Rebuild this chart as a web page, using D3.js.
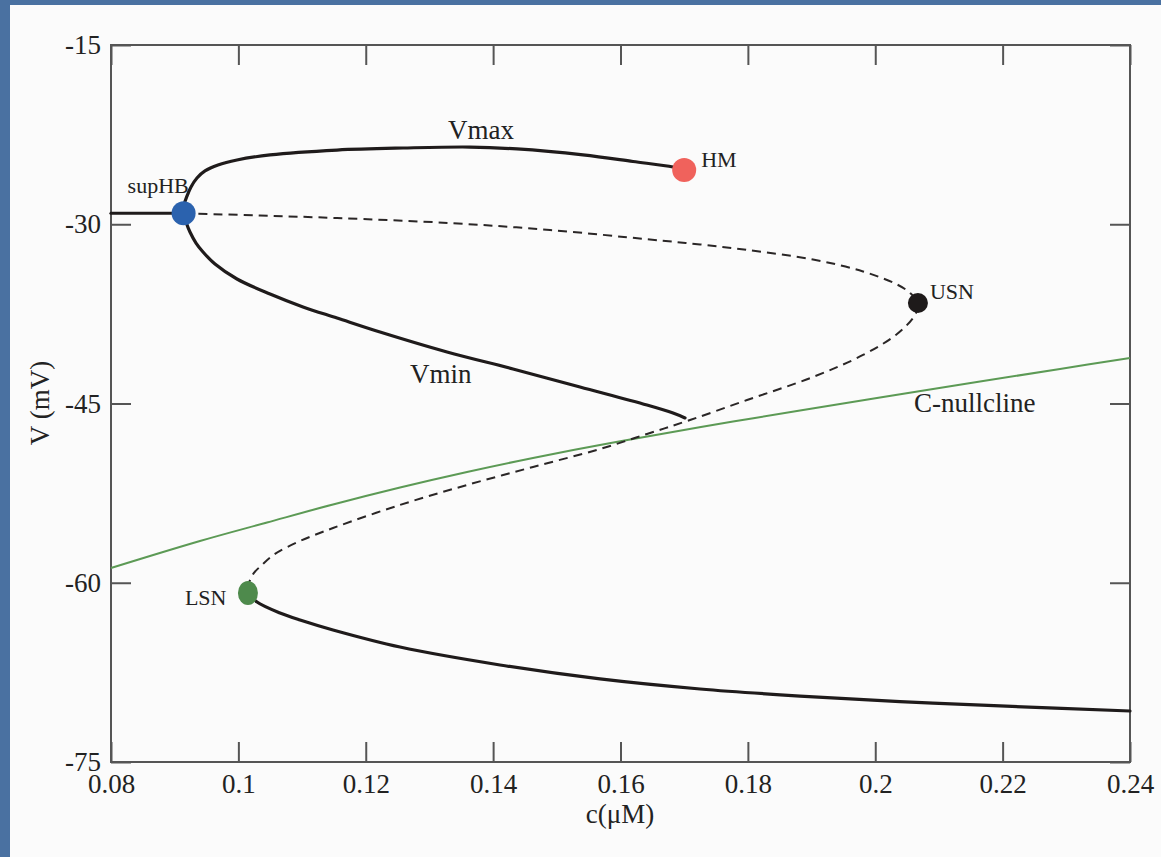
<!DOCTYPE html>
<html>
<head>
<meta charset="utf-8">
<script src="https://cdn.jsdelivr.net/npm/d3@7"></script>
<style>
  body { margin: 0; background: #4a71a1; }
  svg { display: block; }
  text { font-family: "Liberation Serif", "Times New Roman", serif; fill: #222; }
</style>
</head>
<body>
<div id="chart"></div>
<script>
// values: [c (uM), V (mV)]
const restLeft = [[0.08, -29.08], [0.0914, -29.08]];

const vmax = [
  [0.0914, -29.08], [0.09146, -28.39], [0.09193, -27.64], [0.09256, -26.88], [0.0935, -26.13],
  [0.09476, -25.54], [0.0968, -25.04], [0.09978, -24.62], [0.10497, -24.20], [0.11549, -23.79],
  [0.12585, -23.62], [0.13637, -23.54], [0.14375, -23.70], [0.15411, -24.20], [0.16196, -24.75],
  [0.16825, -25.21], [0.16998, -25.46]
];

const vmin = [
  [0.0914, -29.08], [0.09178, -29.81], [0.0924, -30.65], [0.09335, -31.57], [0.09445, -32.32],
  [0.09633, -33.33], [0.09978, -34.58], [0.10497, -35.84], [0.11015, -36.92], [0.11549, -37.85],
  [0.12224, -39.02], [0.13276, -40.69], [0.14312, -42.11], [0.15364, -43.62], [0.16416, -45.13],
  [0.16825, -45.80], [0.17013, -46.21]
];

const unstable = [
  [0.0914, -29.08], [0.1034, -29.27], [0.11549, -29.48], [0.13323, -29.90], [0.14893, -30.48],
  [0.16463, -31.28], [0.17249, -31.69], [0.17987, -32.15], [0.19023, -32.95], [0.19808, -33.95],
  [0.20342, -35.04], [0.20546, -35.75], [0.20672, -36.59], [0.20624, -37.59], [0.20342, -39.18],
  [0.19808, -40.94], [0.19023, -42.78], [0.17987, -44.71], [0.17092, -46.38], [0.16416, -47.55],
  [0.15678, -48.81], [0.14626, -50.31], [0.1359, -51.82], [0.12538, -53.49], [0.11486, -55.42],
  [0.10968, -56.51], [0.10575, -57.59], [0.10371, -58.51], [0.10245, -59.18], [0.10167, -60.02],
  [0.10151, -60.86]
];

const restLow = [
  [0.10151, -60.86], [0.10293, -61.61], [0.10654, -62.53], [0.10968, -63.12], [0.11486, -63.95],
  [0.12538, -65.38], [0.14108, -66.88], [0.15678, -68.05], [0.17249, -68.89], [0.18819, -69.48],
  [0.20389, -69.94], [0.21959, -70.31], [0.24, -70.73]
];

const nullcline = [
  [0.08, -58.77], [0.09397, -56.51], [0.1045, -54.96], [0.11486, -53.45], [0.12538, -52.03],
  [0.1359, -50.73], [0.14626, -49.56], [0.15678, -48.47], [0.1673, -47.47], [0.17767, -46.51],
  [0.18819, -45.59], [0.20075, -44.50], [0.21645, -43.16], [0.22901, -42.11], [0.24, -41.19]
];

const pointNames = ['supHB', 'HM', 'USN', 'LSN'];
const pointC = [0.0914, 0.1700, 0.2067, 0.1015];
const pointV = [-29.08, -25.46, -36.59, -60.86];
const pointColors = ['#2b62ae', '#f0625c', '#1e1a1a', '#4e8a4c'];

const xTicks = [0.08, 0.1, 0.12, 0.14, 0.16, 0.18, 0.2, 0.22, 0.24];
const xTickLabels = ['0.08', '0.1', '0.12', '0.14', '0.16', '0.18', '0.2', '0.22', '0.24'];
const yTicks = [-15, -30, -45, -60, -75];
const yTickLabels = ['-15', '-30', '-45', '-60', '-75'];

const width = 1161;
const height = 857;
const margin = { top: 45, right: 31, bottom: 95, left: 111 };

const svg = d3.select('#chart')
  .append('svg')
  .attr('width', width)
  .attr('height', height);

// white slide panel
svg.append('rect')
  .attr('x', 10).attr('y', 5)
  .attr('width', width - 10).attr('height', height - 5)
  .attr('fill', '#fbfbfb');

const xScale = d3.scaleLinear()
  .domain([0.08, 0.24])
  .range([margin.left, width - margin.right]);

const yScale = d3.scaleLinear()
  .domain([-75, -15])
  .range([height - margin.bottom, margin.top]);

// axes with inward ticks on all four sides
const tickColor = '#555';
function styleAxis(g) {
  g.select('.domain').remove();
  g.selectAll('.tick line').attr('stroke', tickColor).attr('stroke-width', 2);
  g.selectAll('.tick text').attr('font-size', 27).attr('fill', '#222')
    .style('font-family', '"Liberation Serif", serif');
}

svg.append('g')
  .attr('transform', `translate(0, ${yScale(-75)})`)
  .call(d3.axisBottom(xScale).tickValues(xTicks)
    .tickFormat((d, i) => xTickLabels[i]).tickSize(-20).tickPadding(12))
  .call(styleAxis);

svg.append('g')
  .attr('transform', `translate(0, ${yScale(-15)})`)
  .call(d3.axisTop(xScale).tickValues(xTicks).tickFormat('').tickSize(-20))
  .call(styleAxis);

svg.append('g')
  .attr('transform', `translate(${xScale(0.08)}, 0)`)
  .call(d3.axisLeft(yScale).tickValues(yTicks)
    .tickFormat((d, i) => yTickLabels[i]).tickSize(-20).tickPadding(10))
  .call(styleAxis);

svg.append('g')
  .attr('transform', `translate(${xScale(0.24)}, 0)`)
  .call(d3.axisRight(yScale).tickValues(yTicks).tickFormat('').tickSize(-20))
  .call(styleAxis);

// frame
svg.append('rect')
  .attr('x', xScale(0.08)).attr('y', yScale(-15))
  .attr('width', xScale(0.24) - xScale(0.08))
  .attr('height', yScale(-75) - yScale(-15))
  .attr('fill', 'none')
  .attr('stroke', tickColor)
  .attr('stroke-width', 2);

const line = d3.line()
  .x((d) => xScale(d[0]))
  .y((d) => yScale(d[1]))
  .curve(d3.curveCatmullRom.alpha(0.5));

// C-nullcline
svg.append('path')
  .datum(nullcline)
  .attr('d', line)
  .attr('fill', 'none')
  .attr('stroke', '#5c9a55')
  .attr('stroke-width', 2);

// unstable branch
svg.append('path')
  .datum(unstable)
  .attr('d', line)
  .attr('fill', 'none')
  .attr('stroke', '#2a2626')
  .attr('stroke-width', 2)
  .attr('stroke-dasharray', '9 6');

// stable branches and periodic orbit extrema
[restLeft, vmax, vmin, restLow].forEach((series) => {
  svg.append('path')
    .datum(series)
    .attr('d', line)
    .attr('fill', 'none')
    .attr('stroke', '#1f1b1b')
    .attr('stroke-width', 3.2)
    .attr('stroke-linecap', 'round');
});

// bifurcation points
svg.append('g')
  .selectAll('ellipse')
  .data(pointNames)
  .join('ellipse')
  .attr('cx', (d, i) => xScale(pointC[i]))
  .attr('cy', (d, i) => yScale(pointV[i]))
  .attr('rx', (d, i) => (i === 2 ? 10 : i === 3 ? 10 : 12))
  .attr('ry', (d, i) => (i === 2 ? 10 : 12))
  .attr('fill', (d, i) => pointColors[i]);

// point labels
const labelDx = [-56, 17, 12, -63];
const labelDy = [-20, -3, -4, 12];
svg.append('g')
  .selectAll('text')
  .data(pointNames)
  .join('text')
  .attr('x', (d, i) => xScale(pointC[i]) + labelDx[i])
  .attr('y', (d, i) => yScale(pointV[i]) + labelDy[i])
  .attr('font-size', 22)
  .text((d) => d);

// curve labels
svg.append('text').attr('x', 448).attr('y', 139).attr('font-size', 27).text('Vmax');
svg.append('text').attr('x', 410).attr('y', 383).attr('font-size', 27).text('Vmin');
svg.append('text').attr('x', 914).attr('y', 412).attr('font-size', 27).text('C-nullcline');

// axis titles
svg.append('text')
  .attr('x', 620).attr('y', 823)
  .attr('text-anchor', 'middle')
  .attr('font-size', 27)
  .text('c(μM)');

svg.append('text')
  .attr('transform', 'translate(49, 403) rotate(-90)')
  .attr('text-anchor', 'middle')
  .attr('font-size', 27)
  .text('V (mV)');
</script>
</body>
</html>
